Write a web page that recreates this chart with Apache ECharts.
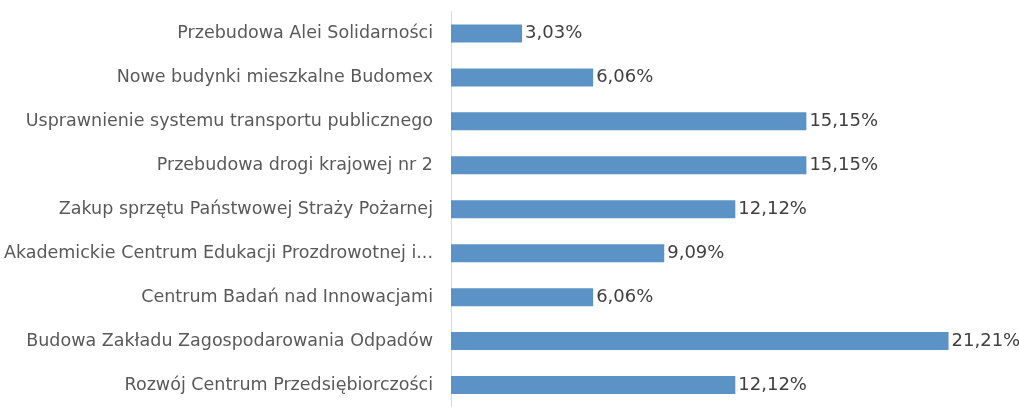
<!DOCTYPE html>
<html><head><meta charset="utf-8">
<script src="https://cdn.jsdelivr.net/npm/echarts@6/dist/echarts.min.js"></script>
<style>html,body{margin:0;padding:0;background:#fff}#c{width:1019px;height:407px}</style>
</head><body><div id="c"></div>
<script>
const categories = [
  "Przebudowa Alei Solidarności",
  "Nowe budynki mieszkalne Budomex",
  "Usprawnienie systemu transportu publicznego",
  "Przebudowa drogi krajowej nr 2",
  "Zakup sprzętu Państwowej Straży Pożarnej",
  "Akademickie Centrum Edukacji Prozdrowotnej i...",
  "Centrum Badań nad Innowacjami",
  "Budowa Zakładu Zagospodarowania Odpadów",
  "Rozwój Centrum Przedsiębiorczości"
];
const values = [3.03, 6.06, 15.15, 15.15, 12.12, 9.09, 6.06, 21.21, 12.12];

const chart = echarts.init(document.getElementById('c'), null, {renderer:'canvas'});
chart.setOption({
  animation:false,
  grid:{left:451, top:11.5, height:404, width:563, containLabel:false},
  xAxis:{type:'value', min:0, max:24, show:false},
  yAxis:{type:'category', data:categories, inverse:true,
    axisLine:{show:true, lineStyle:{color:'#d9d9d9', width:1}},
    axisTick:{show:false},
    axisLabel:{color:'#595959', fontSize:17.5, fontFamily:'DejaVu Sans', margin:18}},
  series:[{type:'bar', data:values, barWidth:18, itemStyle:{color:'#5b93c6'},
    label:{show:true, position:'right', distance:3, color:'#404040', fontSize:18, fontFamily:'DejaVu Sans',
      formatter:p=>p.value.toFixed(2).replace('.',',')+'%'}}]
});
</script></body></html>
